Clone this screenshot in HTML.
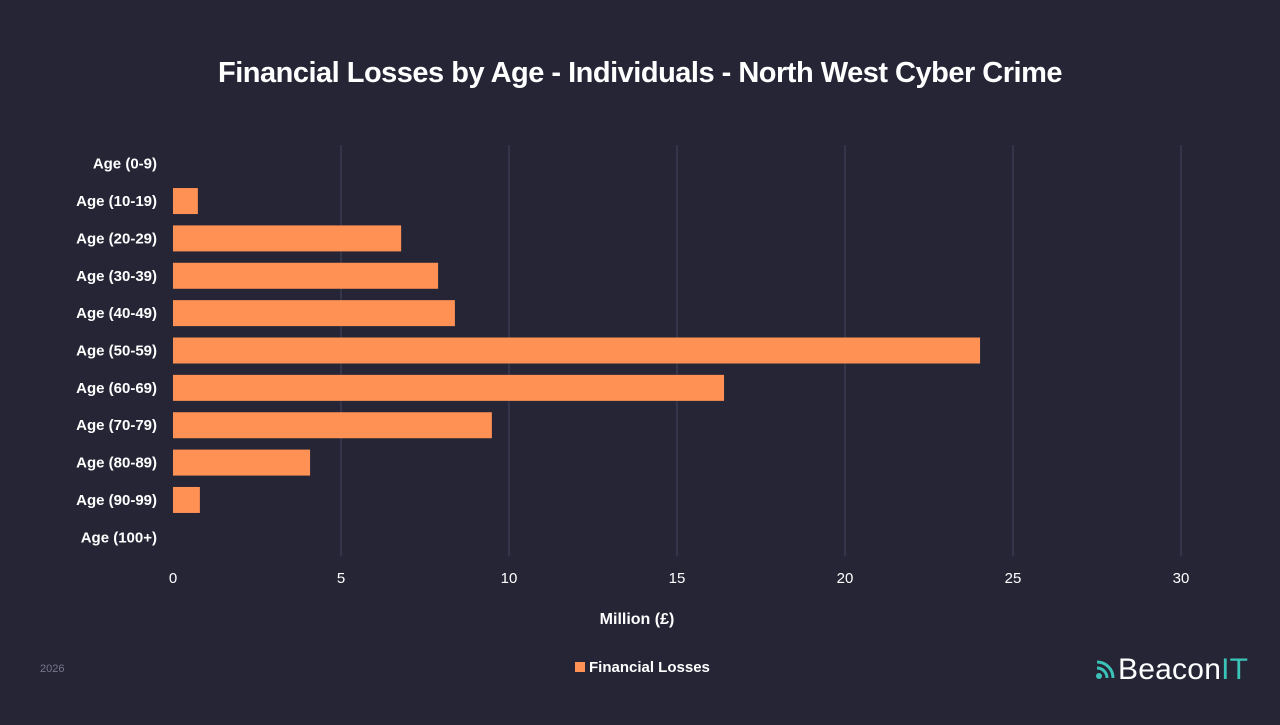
<!DOCTYPE html>
<html><head><meta charset="utf-8"><style>
body{margin:0;width:1280px;height:720px;background:#252536;font-family:"Liberation Sans",sans-serif;overflow:hidden}
</style></head><body>
<svg width="1280" height="720" id="c">
<text x="640" y="82" text-anchor="middle" fill="#fff" font-size="29" font-weight="bold" letter-spacing="-0.5">Financial Losses by Age - Individuals - North West Cyber Crime</text>
<g id="grid"></g><g id="bars"></g><g id="ylab"></g><g id="xlab"></g>
<text x="637" y="624" text-anchor="middle" fill="#fff" font-size="16" font-weight="bold">Million (£)</text>
<rect x="575" y="662" width="10" height="10" fill="#ff9155"/>
<text x="589" y="672" fill="#fff" font-size="15" font-weight="bold">Financial Losses</text>
<text x="40" y="672" fill="#77778a" font-size="11">2026</text>
<g>
<circle cx="1099" cy="676" r="3" fill="#3cc3b8"/>
<path d="M1097 668 a10 10 0 0 1 10 10" stroke="#3cc3b8" stroke-width="3" fill="none"/>
<path d="M1097 662 a16 16 0 0 1 16 16" stroke="#3cc3b8" stroke-width="3" fill="none"/>
<text x="1118" y="679" fill="#fff" font-size="30" textLength="130">Beacon<tspan fill="#3cc3b8">IT</tspan></text>
</g>
</svg>
<script>
const categories=["Age (0-9)","Age (10-19)","Age (20-29)","Age (30-39)","Age (40-49)","Age (50-59)","Age (60-69)","Age (70-79)","Age (80-89)","Age (90-99)","Age (100+)"];
const values=[0,0.74,6.79,7.89,8.39,24.02,16.4,9.49,4.08,0.8,0];
const ticks=[0,5,10,15,20,25,30];
(function(){
const ns="http://www.w3.org/2000/svg";
const x0=173,x1=1181,xmax=30,ptop=145,pbot=556;
const xs=v=>x0+(x1-x0)*v/xmax;
const band=(pbot-ptop)/categories.length;
const yc=i=>ptop+band*(i+0.5);
function mk(t,a,p){const e=document.createElementNS(ns,t);for(const k in a)e.setAttribute(k,a[k]);document.getElementById(p).appendChild(e);return e;}
ticks.forEach(t=>{
 if(t>0){const l=mk('line',{x1:xs(t),x2:xs(t),y1:ptop,y2:pbot,stroke:'#44445e','stroke-width':1},'grid');
 
 }
 const tx=mk('text',{x:xs(t),y:583,'text-anchor':'middle',fill:'#fff','font-size':15},'xlab');tx.textContent=t;
 
 
});
categories.forEach((c,i)=>{
 const tx=mk('text',{x:157,y:yc(i)+5,'text-anchor':'end',fill:'#fff','font-size':15,'font-weight':'bold'},'ylab');tx.textContent=c;
 
 
 if(values[i]>0){const r=mk('rect',{x:x0,y:yc(i)-13,width:xs(values[i])-x0,height:26,fill:'#ff9155'},'bars');
 
 }
});
})();
</script>
</body></html>
